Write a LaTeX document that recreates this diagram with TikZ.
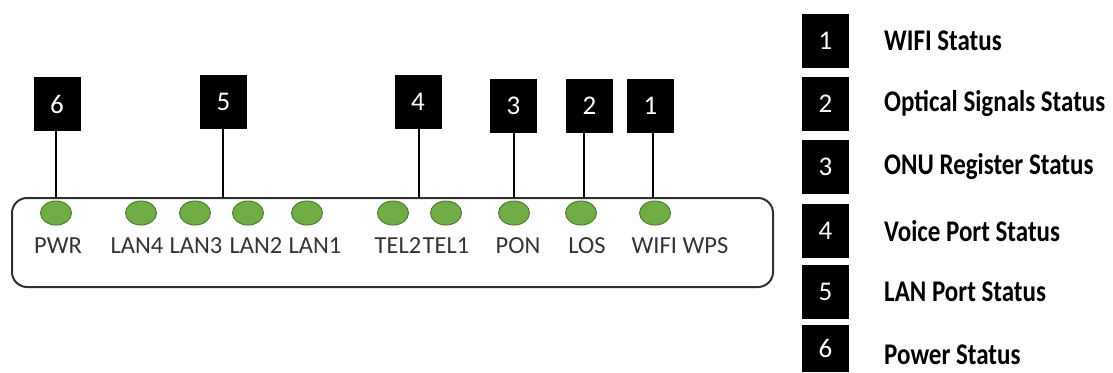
\documentclass[tikz,border=0pt]{standalone}
\usepackage{fontspec}
\setmainfont{Carlito}
\usetikzlibrary{shapes.geometric}

\definecolor{ledgreen}{HTML}{70AD47}
\definecolor{ledrim}{HTML}{4E7F30}
\definecolor{rim}{HTML}{303030}

\begin{document}
\begin{tikzpicture}[x=1pt, y=-1pt]

 \tikzset{
    led/.style={
      ellipse,
      minimum width=31pt,
      minimum height=24pt,
      inner sep=0pt,
      fill=ledgreen,
      draw=ledrim,
      line width=1pt
    },
    ledtext/.style={
      anchor=base,
      inner sep=0pt,
      text=black!80,
      font=\fontsize{24.5}{29}\selectfont
    },
    numbox/.style={
      fill=black,
      minimum width=47pt,
      minimum height=54pt,
      inner sep=0pt,
      text=white,
      font=\fontsize{27}{32}\selectfont
    },
    legtext/.style={
      anchor=west,
      inner sep=0pt,
      yscale=1.2,
      font=\fontsize{25}{30}\selectfont\bfseries
    },
    stem/.style={line width=2.6pt}
  }

\useasboundingbox (0,0) rectangle (1113,372);

% front panel
\draw[rim, line width=2pt, rounded corners=15pt] (12,198) rectangle (773,287);

\foreach \x/\t/\tx [count=\k] in {56/PWR/58, 141/LAN4/137, 195/LAN3/196, 248/LAN2/256,
    307/LAN1/315, 393/TEL2/398, 446/TEL1/446, 514/PON/518, 581/LOS/587, 655/WIFI WPS/680} {
        \node[led] (led\k) at (\x,213) {};
        \node[ledtext] (lbl\k) at (\tx,253) {\t};
    }

% numbered boxes
\foreach \n/\x/\y/\s in {6/57/104/56, 5/223.5/102/223, 4/418/102/419,
    3/513.5/105.5/514, 2/589.5/105.5/584, 1/650.5/105.5/653} {
        \node[numbox] (b\n) at (\x,\y) {\n};
        \coordinate (s\n) at (\s,198);
        \draw[stem] (b\n.south -| s\n) -- (s\n);
    }

% legend
\foreach \n/\y/\t in {1/41/WIFI Status, 2/103.5/Optical Signals Status,
    3/166.5/ONU Register Status, 4/231/Voice Port Status, 5/291.5/LAN Port Status} {
        \node[numbox] (l\n) at (825.5,\y) {\raisebox{-4pt}{\n}};
        \node[legtext] (t\n) at (884,\y) {\t};
    }
\node[numbox, minimum height=47pt] (l6) at (825.5,348.5) {\raisebox{-6pt}{6}};
\node[legtext] (t6) at (884,355) {Power Status};

\end{tikzpicture}
\end{document}
